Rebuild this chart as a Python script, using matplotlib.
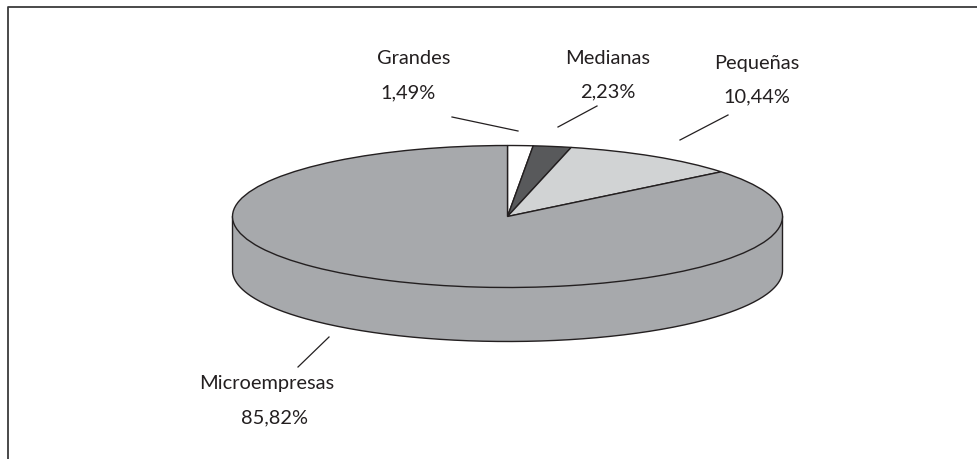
import numpy as np
import matplotlib
matplotlib.use("Agg")
import matplotlib.pyplot as plt

categories = ["Grandes", "Medianas", "Pequeñas", "Microempresas"]
values = [1.49, 2.23, 10.44, 85.82]
value_labels = ["1,49%", "2,23%", "10,44%", "85,82%"]
colors = ["#ffffff", "#58595b", "#d1d3d4", "#a7a9ac"]

W, H = 977, 460
INK = "#231f20"
plt.rcParams["font.family"] = ["Lato", "DejaVu Sans"]

fig = plt.figure(figsize=(W / 100, H / 100), dpi=100, facecolor="white")

# overlay in pixel coordinates for frame, leaders and labels
bg = fig.add_axes([0, 0, 1, 1])
bg.set_xlim(0, W)
bg.set_ylim(H, 0)
bg.axis("off")
bg.plot([977, 8, 8], [7.5, 7.5, 460], color="#3a3a3c", lw=1.3, solid_capstyle="butt")

# pie top ellipse spans x 232..782, y 146..288
cx0, cx1, cy0, cy1 = 232.5, 782.5, 146.5, 288.5
ax = fig.add_axes([cx0 / W, 1 - cy1 / H, (cx1 - cx0) / W, (cy1 - cy0) / H])
ax.patch.set_alpha(0)

depth = 54 / ((cy1 - cy0) / 2)
t = np.linspace(np.pi, 2 * np.pi, 300)
sx = np.cos(t)
sy = np.sin(t)
ax.fill_between(sx, sy - depth, sy, facecolor=colors[3], edgecolor="none", clip_on=False, zorder=1)
rim_x = np.r_[-1, sx, 1]
rim_y = np.r_[0, sy - depth, 0]
ax.plot(rim_x, rim_y, color=INK, lw=1.0, clip_on=False, zorder=2, solid_joinstyle="round")

wedges, _ = ax.pie(values, colors=colors, startangle=90, counterclock=False, radius=1,
                   wedgeprops=dict(edgecolor=INK, linewidth=1.0, clip_on=False, zorder=3))
ax.set_aspect("auto")
ax.set_xlim(-1, 1)
ax.set_ylim(-1, 1)
ax.axis("off")

# leaders (x0, y0, x1, y1) per category, in pixels
leader_x0 = [452, 597, 728, 329]
leader_y0 = [118, 107, 116, 338]
leader_x1 = [518, 558, 680, 298]
leader_y1 = [132, 128, 141, 368]
for a, b, c, d in zip(leader_x0, leader_y0, leader_x1, leader_y1):
    bg.plot([a, c], [b, d], color=INK, lw=0.9)

name_x = [414, 608, 757, 267]
name_y = [59, 58, 63, 384]
val_x = [408, 608, 757, 274]
val_y = [93, 92, 97, 418]
for n, v, nx, ny, vx, vy in zip(categories, value_labels, name_x, name_y, val_x, val_y):
    bg.text(nx, ny, n, ha="center", va="center", fontsize=14.4, color=INK)
    bg.text(vx, vy, v, ha="center", va="center", fontsize=14.4, color=INK)

fig.savefig("out.png", dpi=100, facecolor="white")
